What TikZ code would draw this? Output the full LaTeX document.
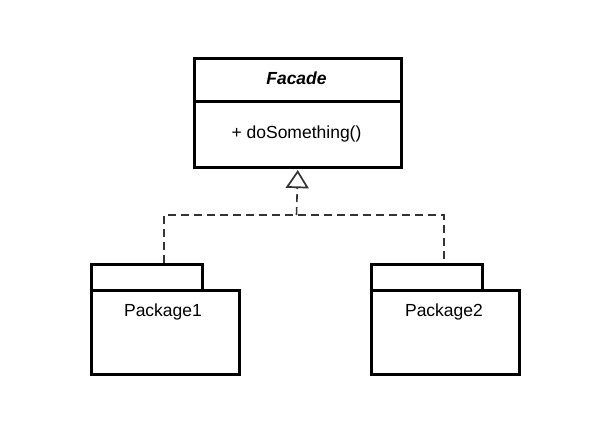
\documentclass[tikz,border=0pt]{standalone}
\usepackage{fontspec}
\setmainfont{Liberation Sans}
\usetikzlibrary{arrows.meta,calc}
\begin{document}
\begin{tikzpicture}[x=1pt,y=-1pt,
  box/.style={draw=black,line width=2.6pt,fill=white,inner sep=0pt,anchor=north west},
  lbl/.style={font=\fontsize{17.5}{20}\selectfont,inner sep=0pt},
  dep/.style={draw=black!80,line width=1.6pt,dash pattern=on 8pt off 5pt},
  realize/.style={-{Triangle[length=18pt,width=23pt,line width=1.7pt,fill=white]}}
]
\useasboundingbox[fill=white] (0,0) rectangle (606,445);
% Facade class
\node[box,minimum width=207pt,minimum height=43pt] (fhead) at (193,57) {};
\node[box,minimum width=207pt,minimum height=66pt] (fbody) at (193,100) {};
\node[lbl,font=\fontsize{17.5}{20}\selectfont\bfseries\itshape] (ftitle) at (296.5,78) {Facade};
\node[lbl] (fop) at (296.5,134) {+ doSomething()};
% Package 1
\node[box,minimum width=111pt,minimum height=26pt] (p1tab) at (90,263) {};
\node[box,minimum width=148pt,minimum height=84pt] (p1body) at (90,289) {};
\node[lbl] (p1lbl) at (163,312) {Package1};
% Package 2
\node[box,minimum width=111pt,minimum height=26pt] (p2tab) at (370,263) {};
\node[box,minimum width=148pt,minimum height=84pt] (p2body) at (370,289) {};
\node[lbl] (p2lbl) at (444,312) {Package2};
% connectors
\coordinate (j) at (296.5,215);
\coordinate (c1) at ($(p1tab.north west)+(74,0)$);
\coordinate (c2) at ($(p2tab.north west)+(74,0)$);
\draw[dep] (c1) |- (j) -| (c2);
\draw[dep,realize,shorten >=1.5pt] (j) -- (fbody.south);
\end{tikzpicture}
\end{document}
